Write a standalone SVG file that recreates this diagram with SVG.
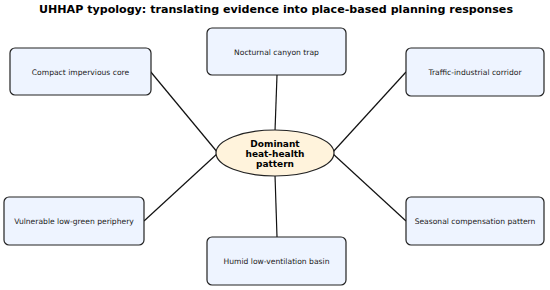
<svg xmlns="http://www.w3.org/2000/svg" width="550" height="290" viewBox="0 0 550 290">
<style>
.box{fill:#eef4ff;stroke:#222;stroke-width:1.2}
.lbl{font-family:"DejaVu Sans",sans-serif;font-size:7.6px;fill:#222;text-anchor:middle;dominant-baseline:central}
.conn{stroke:#111;stroke-width:1.2;fill:none}
.title{font-family:"DejaVu Sans",sans-serif;font-size:11.1px;font-weight:bold;fill:#000;text-anchor:middle}
.ctr{font-family:"DejaVu Sans",sans-serif;font-size:9px;font-weight:bold;fill:#000;text-anchor:middle}
</style>
<rect width="550" height="290" fill="#fff"/>
<text class="title" x="276" y="13">UHHAP typology: translating evidence into place-based planning responses</text>
<g id="connectors">
<line class="conn" x1="150" y1="71" x2="218" y2="153"/>
<line class="conn" x1="277" y1="75" x2="275" y2="131"/>
<line class="conn" x1="406" y1="72" x2="332" y2="153"/>
<line class="conn" x1="144" y1="221" x2="218" y2="153"/>
<line class="conn" x1="277" y1="237" x2="275" y2="175"/>
<line class="conn" x1="406" y1="221" x2="332" y2="153"/>
</g>
<g id="center">
<ellipse cx="275" cy="153" rx="59" ry="23" fill="#fff3dc" stroke="#222" stroke-width="1.2"/>
<text class="ctr" x="275" y="147">Dominant</text>
<text class="ctr" x="275" y="157">heat-health</text>
<text class="ctr" x="275" y="166.5">pattern</text>
</g>
<g id="compact"><rect class="box" x="10" y="48" width="141" height="47" rx="5"/><text class="lbl" x="80.5" y="72">Compact impervious core</text></g>
<g id="nocturnal"><rect class="box" x="207" y="28" width="139" height="47" rx="5"/><text class="lbl" x="276.5" y="52">Nocturnal canyon trap</text></g>
<g id="traffic"><rect class="box" x="406" y="48" width="138" height="48" rx="5"/><text class="lbl" x="475" y="72">Traffic-industrial corridor</text></g>
<g id="vulnerable"><rect class="box" x="4" y="197" width="140" height="48" rx="5"/><text class="lbl" x="74" y="221">Vulnerable low-green periphery</text></g>
<g id="humid"><rect class="box" x="207" y="237" width="139" height="48" rx="5"/><text class="lbl" x="276.5" y="261">Humid low-ventilation basin</text></g>
<g id="seasonal"><rect class="box" x="406" y="197" width="138" height="48" rx="5"/><text class="lbl" x="475" y="221">Seasonal compensation pattern</text></g>
</svg>
